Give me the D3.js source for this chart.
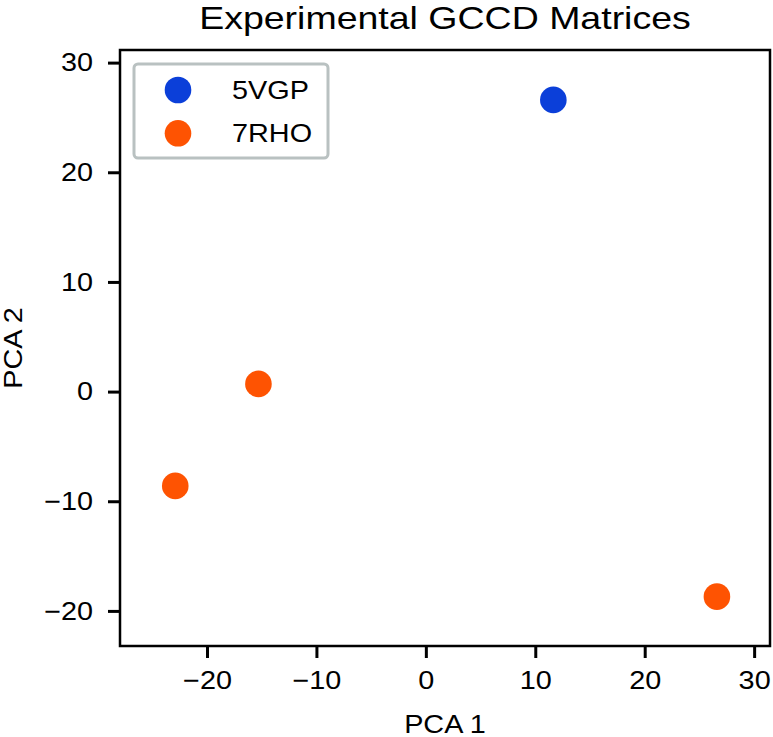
<!DOCTYPE html>
<html>
<head>
<meta charset="utf-8">
<script src="https://cdn.jsdelivr.net/npm/d3@7"></script>
<style>
  body { margin: 0; background: #fff; }
  text { font-family: "Liberation Sans", Arial, sans-serif; fill: #000; }
</style>
</head>
<body>
<svg id="chart" width="773" height="737"></svg>
<script>
// data
var series = ["5VGP", "7RHO"];
var colors = ["#0b3fd9", "#fe5302"];
var pca1 = [11.65, -15.3, -22.9, 26.6];
var pca2 = [26.6, 0.7, -8.6, -18.7];
var group = ["5VGP", "7RHO", "7RHO", "7RHO"];
var ticks = [-20, -10, 0, 10, 20, 30];

var svg = d3.select("#chart"),
    margin = {top: 50, right: 3, bottom: 91, left: 120},
    width = +svg.attr("width") - margin.left - margin.right,
    height = +svg.attr("height") - margin.top - margin.bottom;

var g = svg.append("g").attr("transform", "translate(" + margin.left + "," + margin.top + ")");

var x = d3.scaleLinear().domain([-27.95, 31.45]).range([0, width]);
var y = d3.scaleLinear().domain([-23.2, 31.15]).range([height, 0]);
var color = d3.scaleOrdinal().domain(series).range(colors);

var fmt = function(d) { return d < 0 ? "\u2212" + Math.abs(d) : d; };

var xAxis = g.append("g")
    .attr("transform", "translate(0," + height + ")")
    .call(d3.axisBottom(x).tickValues(ticks).tickFormat(fmt).tickSize(12).tickPadding(8));
var yAxis = g.append("g")
    .call(d3.axisLeft(y).tickValues(ticks).tickFormat(fmt).tickSize(12).tickPadding(15));

[xAxis, yAxis].forEach(function(a) {
  a.select(".domain").remove();
  a.selectAll(".tick line").attr("stroke", "#000").attr("stroke-width", 3);
  a.selectAll(".tick text").style("font-size", "25.5px").attr("fill", "#000");
});
xAxis.selectAll(".tick text").attr("dy", "0.92em");

g.append("rect")
    .attr("width", width).attr("height", height)
    .attr("fill", "none").attr("stroke", "#000").attr("stroke-width", 2.5);

g.selectAll(".dot")
  .data(pca1.map(function(v, i) { return {x: v, y: pca2[i], s: group[i]}; }))
  .enter().append("circle")
    .attr("class", "dot")
    .attr("cx", function(d) { return x(d.x); })
    .attr("cy", function(d) { return y(d.y); })
    .attr("r", 13.3)
    .attr("fill", function(d) { return color(d.s); });

// legend
var legend = g.append("g").attr("transform", "translate(14,14)");
legend.append("rect")
    .attr("width", 194).attr("height", 94).attr("rx", 4)
    .attr("fill", "#fff").attr("stroke", "#b9c1c1").attr("stroke-width", 3);
var item = legend.selectAll(".item").data(series).enter().append("g")
    .attr("transform", function(d, i) { return "translate(0," + (26 + i * 43.3) + ")"; });
item.append("circle").attr("cx", 44).attr("r", 13.3).attr("fill", function(d) { return color(d); });
item.append("text").attr("x", 98).attr("y", 9).style("font-size", "25.5px").text(function(d) { return d; });

// titles
svg.append("text")
    .attr("class", "title")
    .attr("x", margin.left + width / 2).attr("y", 28.5)
    .attr("text-anchor", "middle").style("font-size", "31.5px")
    .text("Experimental GCCD Matrices");
svg.append("text")
    .attr("x", margin.left + width / 2).attr("y", 733)
    .attr("text-anchor", "middle").style("font-size", "25.5px")
    .text("PCA 1");
svg.append("text")
    .attr("transform", "translate(22," + (margin.top + height / 2) + ") rotate(-90)")
    .attr("text-anchor", "middle").style("font-size", "25.5px")
    .text("PCA 2");

// the reference lettering is a bit wider than Arial, stretch it
svg.selectAll("text").each(function() {
  var k = d3.select(this).classed("title") ? 1.19 : 1.13;
  d3.select(this)
    .attr("textLength", this.getComputedTextLength() * k)
    .attr("lengthAdjust", "spacingAndGlyphs");
});
</script>
</body>
</html>
